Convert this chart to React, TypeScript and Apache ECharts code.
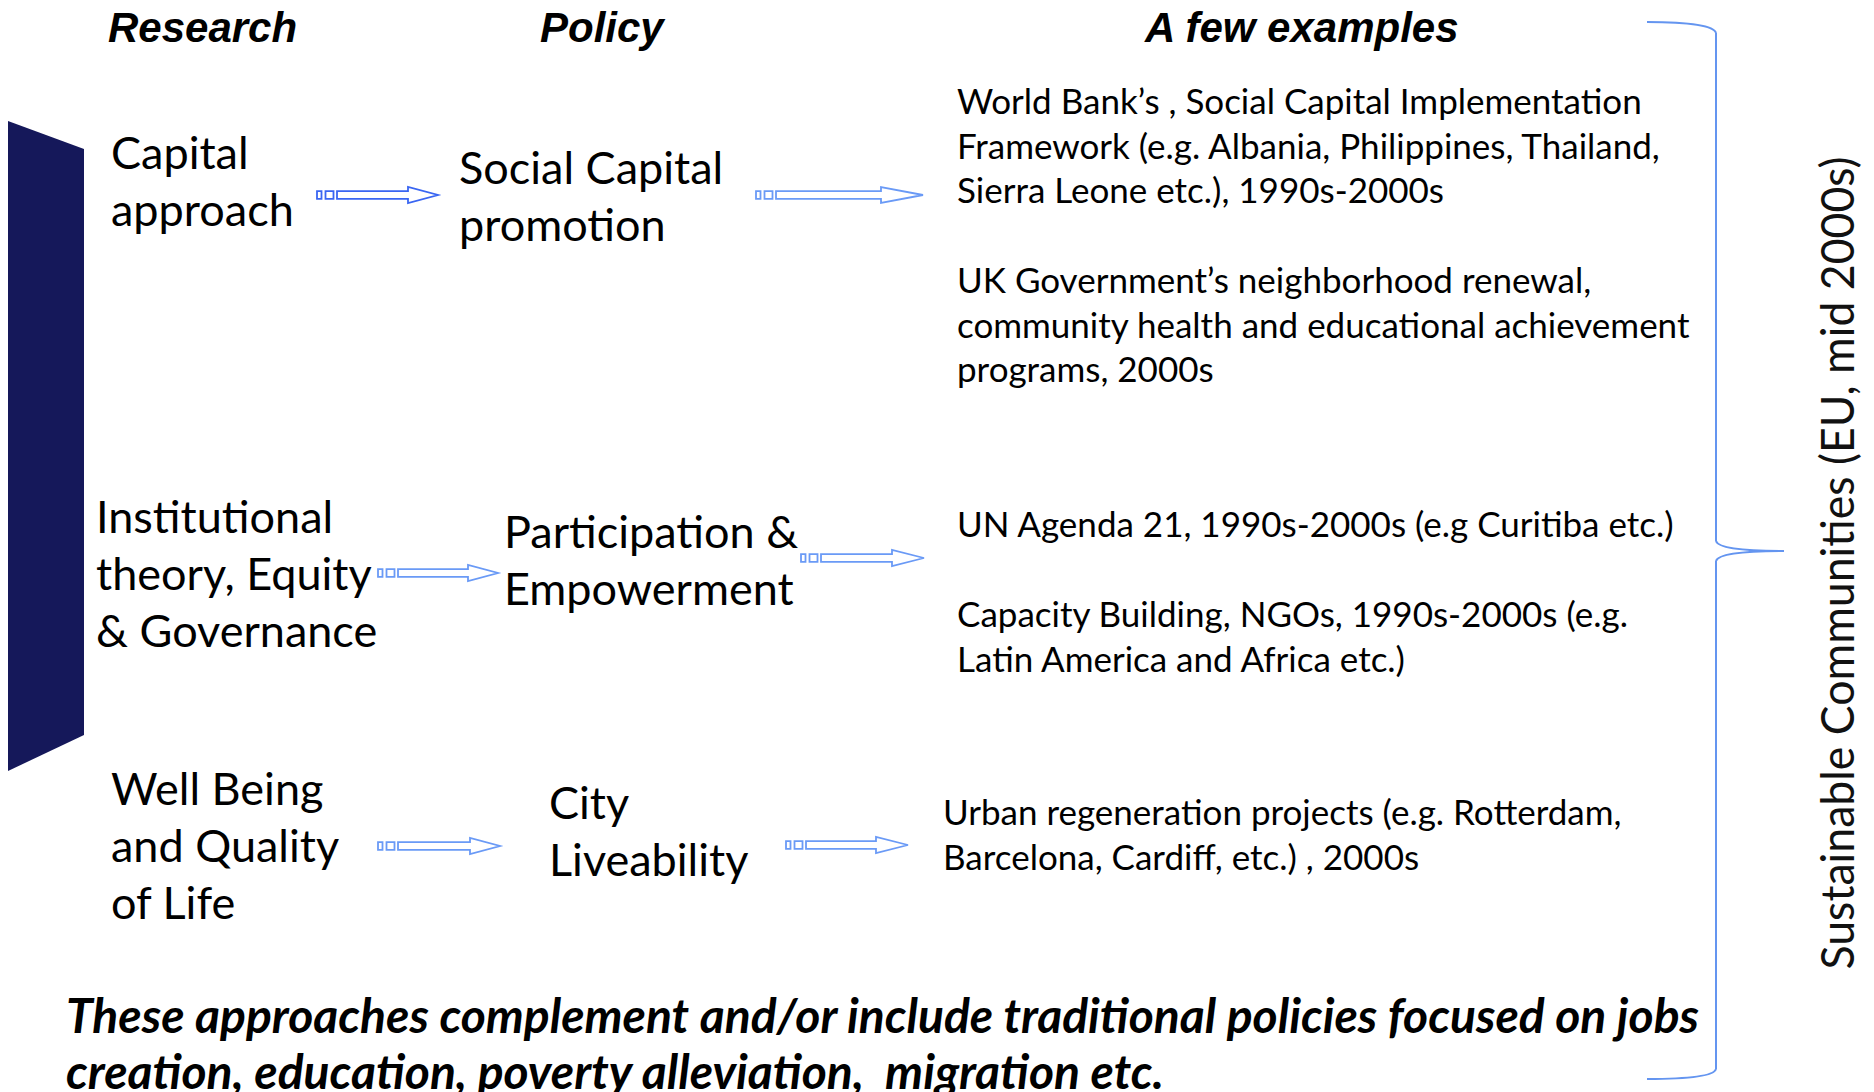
import React, { useEffect, useRef } from "react";
import * as echarts from "echarts";

const headers = ["Research", "Policy", "A few examples"];
const headerX = [108, 540, 1145];

const researchLines = [
  ["Capital", "approach"],
  ["Institutional", "theory, Equity", "& Governance"],
  ["Well Being", "and Quality", "of Life"],
];
const researchX = [111, 96, 111];
const researchY = [152, 516, 788];

const policyLines = [
  ["Social Capital", "promotion"],
  ["Participation &", "Empowerment"],
  ["City", "Liveability"],
];
const policyX = [459, 504, 549];
const policyY = [167, 531, 802];

const exampleLines = [
  ["World Bank’s , Social Capital Implementation", "Framework (e.g. Albania, Philippines, Thailand,", "Sierra Leone etc.), 1990s-2000s"],
  ["UK Government’s neighborhood renewal,", "community health and educational achievement", "programs, 2000s"],
  ["UN Agenda 21, 1990s-2000s (e.g Curitiba etc.)"],
  ["Capacity Building, NGOs, 1990s-2000s (e.g.", "Latin America and Africa etc.)"],
  ["Urban regeneration projects (e.g. Rotterdam,", "Barcelona, Cardiff, etc.) , 2000s"],
];
const exampleX = [957, 957, 957, 957, 943];
const exampleY = [100, 279, 523, 613, 811];

const footerLines = [
  "These approaches complement and/or include traditional policies focused on jobs",
  "creation, education, poverty alleviation,  migration etc.",
];
const sideLabel = "Sustainable Communities (EU, mid 2000s)";

// arrows: [tailX, tipX, centerY, headLength, colour]
const arrows: [number, number, number, number, string][] = [
  [317, 438, 195, 30, "#3a66f2"],
  [756, 923, 195, 42, "#6a9af6"],
  [378, 498, 573, 30, "#6a9af6"],
  [801, 924, 558, 32, "#6a9af6"],
  [378, 500, 846, 30, "#6a9af6"],
  [786, 908, 845, 32, "#6a9af6"],
];

const BODY = "Lato";
const LINE_BODY = 57;
const LINE_EX = 44.5;
const LINE_FOOT = 56;

function txt(text: string, x: number, y: number, font: string, extra: any = {}) {
  return {
    type: "text",
    x,
    y,
    silent: true,
    ...extra,
    style: {
      text,
      font,
      fill: "#000",
      align: extra.align || "left",
      verticalAlign: "middle",
      textAlign: extra.align || "left",
      textVerticalAlign: "middle",
    },
  };
}

function arrowEls(a: [number, number, number, number, string]) {
  const [x0, x1, y, h, c] = a;
  const st = { stroke: c, lineWidth: 1.8, fill: "#fff" };
  const sh = 3.8;
  const hh = 8;
  return [
    { type: "rect", shape: { x: x0, y: y - sh, width: 4.5, height: sh * 2 }, style: st },
    { type: "rect", shape: { x: x0 + 8.5, y: y - sh, width: 8, height: sh * 2 }, style: st },
    {
      type: "polygon",
      shape: {
        points: [
          [x0 + 20, y - sh],
          [x1 - h, y - sh],
          [x1 - h, y - hh],
          [x1, y],
          [x1 - h, y + hh],
          [x1 - h, y + sh],
          [x0 + 20, y + sh],
        ],
      },
      style: st,
    },
  ];
}

export default function App() {
  const ref = useRef<HTMLDivElement>(null);
  useEffect(() => {
    if (!ref.current) return;
    const chart = echarts.init(ref.current, null, { renderer: "svg" });
    const els: any[] = [];

    // dark bar on the left
    els.push({
      type: "polygon",
      shape: { points: [[8, 121], [84, 149], [84, 735], [8, 771]] },
      style: { fill: "#15185a" },
    });

    headers.forEach((h, i) => {
      els.push(txt(h, headerX[i], 27, `italic bold 42px "Liberation Sans"`));
    });

    researchLines.forEach((lines, i) =>
      lines.forEach((l, j) =>
        els.push(txt(l, researchX[i], researchY[i] + j * LINE_BODY, `45px ${BODY}`))
      )
    );
    policyLines.forEach((lines, i) =>
      lines.forEach((l, j) =>
        els.push(txt(l, policyX[i], policyY[i] + j * LINE_BODY, `45px ${BODY}`))
      )
    );
    exampleLines.forEach((lines, i) =>
      lines.forEach((l, j) =>
        els.push(txt(l, exampleX[i], exampleY[i] + j * LINE_EX, `35px ${BODY}`))
      )
    );
    footerLines.forEach((l, j) =>
      els.push(txt(l, 66, 1014 + j * LINE_FOOT, `italic bold 48px ${BODY}`))
    );

    arrows.forEach((a) => arrowEls(a).forEach((e) => els.push(e)));

    // bracket
    const bs = { stroke: "#6495f0", lineWidth: 2, fill: "none" };
    els.push({ type: "bezierCurve", shape: { x1: 1647, y1: 22, cpx1: 1690, cpy1: 22, cpx2: 1714, cpy2: 26, x2: 1716, y2: 33 }, style: bs });
    els.push({ type: "line", shape: { x1: 1716, y1: 33, x2: 1716, y2: 541 }, style: bs });
    els.push({ type: "bezierCurve", shape: { x1: 1716, y1: 541, cpx1: 1718, cpy1: 548, cpx2: 1740, cpy2: 551, x2: 1784, y2: 551 }, style: bs });
    els.push({ type: "bezierCurve", shape: { x1: 1784, y1: 551, cpx1: 1740, cpy1: 551, cpx2: 1718, cpy2: 554, x2: 1716, y2: 561 }, style: bs });
    els.push({ type: "line", shape: { x1: 1716, y1: 561, x2: 1716, y2: 1069 }, style: bs });
    els.push({ type: "bezierCurve", shape: { x1: 1716, y1: 1069, cpx1: 1714, cpy1: 1076, cpx2: 1690, cpy2: 1079, x2: 1647, y2: 1079 }, style: bs });

    // rotated label
    els.push({
      type: "text",
      x: 1836,
      y: 563,
      rotation: Math.PI / 2,
      scaleX: 0.97,
      silent: true,
      style: {
        text: sideLabel,
        font: `46px ${BODY}`,
        fill: "#111",
        align: "center",
        verticalAlign: "middle",
        textAlign: "center",
        textVerticalAlign: "middle",
      },
    });

    chart.setOption({ animation: false, graphic: { elements: els } });
    return () => chart.dispose();
  }, []);
  return (
    <div
      ref={ref}
      style={{ position: "fixed", left: 0, top: 0, width: 1874, height: 1092, background: "#fff" }}
    />
  );
}
